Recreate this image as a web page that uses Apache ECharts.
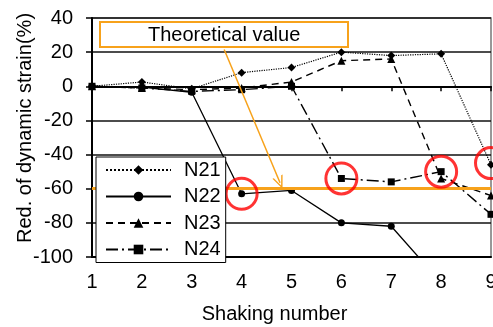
<!DOCTYPE html>
<html>
<head>
<meta charset="utf-8">
<script src="https://cdn.jsdelivr.net/npm/echarts@6/dist/echarts.min.js"></script>
<style>
  html, body { margin: 0; padding: 0; background: #fff; }
  #chart { width: 493px; height: 327px; }
</style>
</head>
<body>
<div id="chart"></div>
<script>
// shaking numbers on the x axis
const shaking = [1, 2, 3, 4, 5, 6, 7, 8, 9]
const yTicks = [-100, -80, -60, -40, -20, 0, 20, 40]

// reduction of dynamic strain (%) per gauge
const n21 = [0, 2.5, -1.5, 8, 11, 20, 18, 19, -46]
const n22 = [0, -0.5, -3.5, -63, -61, -80, -82, -115, -120]
const n23 = [0, -1, -2, -1, 2.5, 15, 16, -54, -64]
const n24 = [0, -1, -3, -2, 0, -54, -56, -50, -75]

const theoreticalValue = -60
// red circled points [shaking, value]
const circled = [[4, -63], [6, -54], [8, -50], [9, -45]]
// arrow from label box to theoretical line, in data units
const arrowFrom = [3.65, 21.5]
const arrowTo = [4.77, -56.5]

const font = 'Liberation Sans, Arial, sans-serif'
const orange = '#F7A21B'

const pairs = vals => shaking.map((s, i) => [s, vals[i]])

const chart = echarts.init(document.getElementById('chart'))

function lineSeries (name, vals, symbol, size, dash, width) {
  return {
    name: name,
    type: 'line',
    data: pairs(vals),
    xAxisIndex: 0,
    symbol: symbol,
    symbolSize: size,
    clip: true,
    color: '#000',
    itemStyle: { color: '#000' },
    lineStyle: { color: '#000', width: width, type: dash },
    emphasis: { disabled: true },
    animation: false
  }
}

const s22 = lineSeries('N22', n22, 'circle', 7, 'solid', 1.3)
s22.markLine = {
  silent: true,
  animation: false,
  label: { show: false },
  data: [
    [
      { coord: [1, theoreticalValue], symbol: 'none' },
      { coord: [9, theoreticalValue], symbol: 'none', lineStyle: { color: orange, width: 3, type: 'solid' } }
    ],
    [
      { coord: arrowFrom, symbol: 'none' },
      {
        coord: arrowTo,
        symbol: 'path://M0,10 L5,0 L10,10 L8.6,10 L5,2.8 L1.4,10 Z',
        symbolSize: [11, 13],
        lineStyle: { color: orange, width: 1.5, type: 'solid' }
      }
    ]
  ],
  lineStyle: { color: orange, width: 1.5, type: 'solid' },
  itemStyle: { color: orange }
}

chart.setOption({
  animation: false,
  textStyle: { fontFamily: font },
  title: {
    text: 'Theoretical value',
    left: 100,
    top: 22,
    padding: [3, 48, 2, 48],
    borderColor: orange,
    borderWidth: 2,
    backgroundColor: '#fff',
    textStyle: { fontSize: 20, fontWeight: 'normal', color: '#000', fontFamily: font }
  },
  grid: {
    left: 92,
    right: 2,
    top: 18,
    bottom: 70,
    show: true,
    outerBoundsMode: 'none',
    containLabel: false,
    borderColor: '#777',
    borderWidth: 1.5,
    backgroundColor: 'transparent'
  },
  legend: {
    data: ['N21', 'N22', 'N23', 'N24'],
    orient: 'vertical',
    left: 96,
    top: 157,
    zlevel: 1,
    z: 10,
    padding: [3, 5, 3, 9],
    itemGap: 6.5,
    itemWidth: 65,
    itemHeight: 12,
    backgroundColor: '#fff',
    borderColor: '#000',
    borderWidth: 1,
    selectedMode: false,
    textStyle: { fontSize: 20, color: '#000', fontFamily: font, padding: [0, 0, 0, 8] }
  },
  xAxis: [
    {
      type: 'value',
      min: 1,
      max: 9,
      interval: 1,
      position: 'bottom',
      name: 'Shaking number',
      nameLocation: 'middle',
      nameGap: 47,
      nameMoveOverlap: false,
      nameTextStyle: { fontSize: 20, color: '#000', fontFamily: font, padding: [0, 34, 0, 0] },
      axisLine: { onZero: false, lineStyle: { color: '#000', width: 2 } },
      axisTick: { show: false },
      axisLabel: { fontSize: 20, color: '#000', margin: 15, fontFamily: font },
      splitLine: { show: false }
    },
    {
      type: 'value',
      min: 1,
      max: 9,
      interval: 1,
      position: 'top',
      axisLine: { onZero: true, lineStyle: { color: '#000', width: 2 } },
      axisTick: { show: true, inside: true, length: 5, lineStyle: { color: '#000', width: 1.5 } },
      axisLabel: { show: false },
      splitLine: { show: false }
    }
  ],
  yAxis: {
    type: 'value',
    min: yTicks[0],
    max: yTicks[yTicks.length - 1],
    interval: 20,
    name: 'Red. of dynamic strain(%)',
    nameLocation: 'middle',
    nameGap: 57,
    nameMoveOverlap: false,
    nameTextStyle: { fontSize: 20, color: '#000', fontFamily: font, padding: [0, 0, 0, 19] },
    axisLine: { show: true, lineStyle: { color: '#000', width: 2 } },
    axisTick: { show: true, length: 6, lineStyle: { color: '#000', width: 1.5 } },
    axisLabel: { fontSize: 20, color: '#000', margin: 19, fontFamily: font },
    splitLine: { show: true, lineStyle: { color: '#111', width: 1.5 } }
  },
  series: [
    lineSeries('N21', n21, 'diamond', 8, 'dotted', 1.2),
    s22,
    lineSeries('N23', n23, 'triangle', 8, [7, 5], 1.4),
    lineSeries('N24', n24, 'rect', 7, [12, 4, 2, 4], 1.4),
    {
      name: 'circled',
      type: 'scatter',
      data: circled,
      symbol: 'circle',
      symbolSize: 31,
      clip: false,
      z: 5,
      silent: true,
      itemStyle: { color: 'rgba(0,0,0,0)', borderColor: '#f00', borderWidth: 3 }
    }
  ]
})
</script>
</body>
</html>
